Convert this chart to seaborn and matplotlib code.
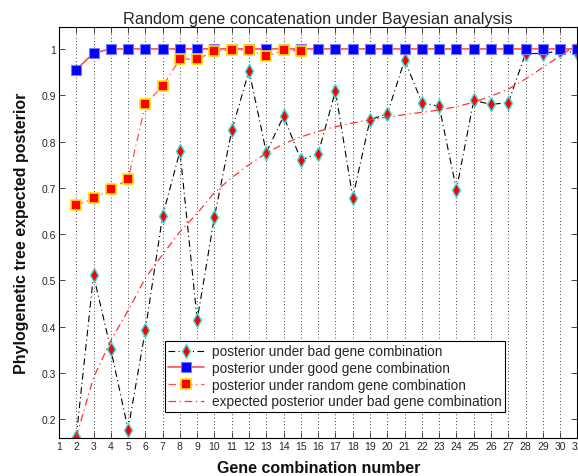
import numpy as np
import pandas as pd
import matplotlib
matplotlib.use("Agg")
import matplotlib.pyplot as plt
import seaborn as sns

combo = list(range(2, 32))
bad_posterior = [0.162, 0.511, 0.351, 0.178, 0.393, 0.640, 0.779, 0.415, 0.638, 0.824,
                 0.953, 0.776, 0.855, 0.760, 0.774, 0.909, 0.679, 0.847, 0.860, 0.976,
                 0.884, 0.876, 0.696, 0.889, 0.880, 0.884, 0.990, 0.990, 0.996, 0.992]
good_posterior = [0.955, 0.991] + [1.0] * 28
random_combo = list(range(2, 16))
random_posterior = [0.662, 0.677, 0.697, 0.718, 0.880, 0.920, 0.978, 0.978, 0.995, 0.997,
                    0.997, 0.984, 0.997, 0.996]
expected_posterior = [0.162, 0.29, 0.37, 0.435, 0.505, 0.556, 0.605, 0.645, 0.69, 0.722,
                      0.75, 0.775, 0.795, 0.81, 0.822, 0.832, 0.84, 0.847, 0.853, 0.858,
                      0.863, 0.868, 0.875, 0.885, 0.898, 0.913, 0.935, 0.96, 0.985, 1.01]
x_ticks = list(range(1, 32))
y_ticks = [0.2, 0.3, 0.4, 0.5, 0.6, 0.7, 0.8, 0.9, 1.0]
y_tick_labels = ["0.2", "0.3", "0.4", "0.5", "0.6", "0.7", "0.8", "0.9", "1"]

sns.set_style("white")
plt.rcParams['font.family'] = ['Liberation Sans', 'DejaVu Sans']

fig = plt.figure(figsize=(5.78, 4.77), dpi=100)
ax = fig.add_axes([0.102, 0.080, 0.897, 0.861])

dashdot = (0, (6, 3, 1, 3))
sns.lineplot(x=combo, y=bad_posterior, ax=ax, color='black', lw=0.8, linestyle=dashdot,
             marker='d', markersize=7, markerfacecolor='red', markeredgecolor='#33e0e0',
             markeredgewidth=1, label='posterior under bad gene combination')
sns.lineplot(x=combo, y=good_posterior, ax=ax, color='#ff5050', lw=1.2, linestyle='-',
             marker='s', markersize=6.5, markerfacecolor='#0000ff', markeredgecolor='#7a7aff',
             markeredgewidth=0.8, label='posterior under good gene combination')
sns.lineplot(x=random_combo, y=random_posterior, ax=ax, color='#ff5050', lw=0.9,
             linestyle=dashdot,
             marker='s', markersize=6.5, markerfacecolor='red', markeredgecolor='#ffe000',
             markeredgewidth=1.2, label='posterior under random gene combination')
sns.lineplot(x=combo, y=expected_posterior, ax=ax, color='#ff3030', lw=0.9,
             linestyle=dashdot, label='expected posterior under bad gene combination')

ax.set_xlim(1, 31)
ax.set_ylim(0.16, 1.047)
ax.set_xticks(x_ticks)
ax.set_xticklabels([str(t) for t in x_ticks], fontsize=7.5)
ax.set_yticks(y_ticks)
ax.set_yticklabels(y_tick_labels, fontsize=7.5)
ax.tick_params(direction='in', length=4, width=0.6, top=True, right=True, pad=2,
               bottom=True, left=True)
ax.xaxis.grid(True, color='black', linestyle=(0, (1, 3)), lw=0.6)
ax.yaxis.grid(False)
for s in ax.spines.values():
    s.set_color('black')
    s.set_linewidth(0.8)

ax.set_title('Random gene concatenation under Bayesian analysis', fontsize=11.7, pad=3)
ax.set_xlabel('Gene combination number', fontsize=11.5, fontweight='bold', labelpad=7,
              color='#111111')
ax.set_ylabel('Phylogenetic tree expected posterior', fontsize=11.5, fontweight='bold',
              labelpad=9, color='#111111')

leg = ax.legend(loc='upper left', bbox_to_anchor=(0.204, 0.236), fontsize=9.8,
                frameon=True, fancybox=False, edgecolor='black', framealpha=1,
                borderpad=0.25, labelspacing=0.2, handlelength=2.6, handletextpad=0.6,
                borderaxespad=0)
leg.get_frame().set_linewidth(0.8)

fig.savefig('out.png', dpi=100)
